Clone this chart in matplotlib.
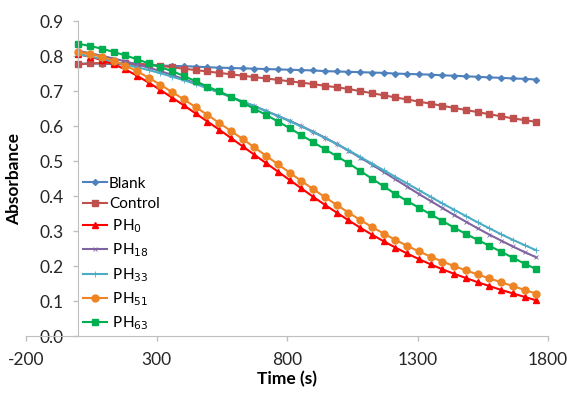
import matplotlib
matplotlib.use('Agg')
import matplotlib.pyplot as plt

plt.rcParams['font.family'] = ['Lato', 'DejaVu Sans']
plt.rcParams['axes.unicode_minus'] = False

time_s = [0, 45, 90, 135, 180, 225, 270, 315, 360, 405, 450, 495, 540, 585, 630,
          675, 720, 765, 810, 855, 900, 945, 990, 1035, 1080, 1125, 1170, 1215,
          1260, 1305, 1350, 1395, 1440, 1485, 1530, 1575, 1620, 1665, 1710, 1755]

blank = [0.778, 0.779, 0.778, 0.777, 0.776, 0.775, 0.774, 0.773, 0.772, 0.771,
         0.770, 0.768, 0.767, 0.766, 0.765, 0.764, 0.763, 0.762, 0.761, 0.760,
         0.759, 0.757, 0.756, 0.755, 0.754, 0.753, 0.752, 0.750, 0.749, 0.748,
         0.747, 0.745, 0.744, 0.742, 0.741, 0.739, 0.738, 0.736, 0.735, 0.733]
control = [0.776, 0.779, 0.780, 0.780, 0.779, 0.778, 0.776, 0.772, 0.768, 0.764,
           0.760, 0.756, 0.752, 0.748, 0.744, 0.740, 0.736, 0.732, 0.728, 0.724,
           0.720, 0.715, 0.711, 0.706, 0.700, 0.694, 0.688, 0.682, 0.676, 0.670,
           0.664, 0.658, 0.652, 0.646, 0.640, 0.634, 0.628, 0.622, 0.617, 0.612]
ph0 = [0.805, 0.798, 0.789, 0.777, 0.762, 0.744, 0.724, 0.703, 0.681, 0.659,
       0.636, 0.613, 0.590, 0.566, 0.542, 0.518, 0.494, 0.470, 0.446, 0.422,
       0.398, 0.375, 0.353, 0.331, 0.310, 0.290, 0.271, 0.253, 0.236, 0.220,
       0.205, 0.191, 0.178, 0.166, 0.154, 0.143, 0.132, 0.122, 0.112, 0.102]
ph18 = [0.815, 0.808, 0.801, 0.793, 0.785, 0.776, 0.767, 0.757, 0.746, 0.734,
        0.722, 0.709, 0.696, 0.683, 0.670, 0.657, 0.643, 0.629, 0.615, 0.600,
        0.584, 0.567, 0.549, 0.530, 0.510, 0.490, 0.469, 0.448, 0.427, 0.406,
        0.386, 0.366, 0.346, 0.327, 0.308, 0.290, 0.273, 0.256, 0.240, 0.225]
ph33 = [0.805, 0.799, 0.792, 0.784, 0.776, 0.768, 0.760, 0.751, 0.741, 0.731,
        0.720, 0.708, 0.696, 0.683, 0.670, 0.657, 0.643, 0.629, 0.614, 0.599,
        0.583, 0.566, 0.549, 0.531, 0.512, 0.493, 0.474, 0.455, 0.436, 0.417,
        0.398, 0.379, 0.361, 0.343, 0.325, 0.308, 0.291, 0.275, 0.260, 0.245]
ph51 = [0.812, 0.806, 0.798, 0.787, 0.773, 0.757, 0.738, 0.718, 0.697, 0.676,
        0.654, 0.632, 0.609, 0.586, 0.563, 0.539, 0.515, 0.491, 0.467, 0.443,
        0.420, 0.397, 0.375, 0.353, 0.332, 0.312, 0.293, 0.275, 0.258, 0.242,
        0.227, 0.213, 0.200, 0.188, 0.176, 0.165, 0.154, 0.143, 0.132, 0.121]
ph63 = [0.835, 0.829, 0.821, 0.812, 0.802, 0.791, 0.779, 0.768, 0.757, 0.743,
        0.728, 0.713, 0.699, 0.684, 0.667, 0.649, 0.632, 0.613, 0.594, 0.574,
        0.554, 0.534, 0.514, 0.494, 0.472, 0.450, 0.428, 0.406, 0.386, 0.367,
        0.348, 0.329, 0.310, 0.292, 0.275, 0.258, 0.241, 0.224, 0.207, 0.191]

x_ticks = [-200, 300, 800, 1300, 1800]
y_ticks = [0.0, 0.1, 0.2, 0.3, 0.4, 0.5, 0.6, 0.7, 0.8, 0.9]

fig = plt.figure(figsize=(5.67, 3.94), dpi=100)
ax = fig.add_axes([0.046, 0.147, 0.9205, 0.7995])

ax.plot(time_s, blank, color='#4F81BD', marker='D', ms=3, lw=1.5, label='Blank')
ax.plot(time_s, control, color='#C0504D', marker='s', ms=5, lw=1.5, label='Control')
ax.plot(time_s, ph0, color='#FF0000', marker='^', ms=5, lw=1.5, label=' PH$_{0}$')
ax.plot(time_s, ph18, color='#8064A2', marker='x', ms=3, mew=0.6, lw=1.5,
        label=' PH$_{18}$')
ax.plot(time_s, ph33, color='#4BACC6', marker='+', ms=4, mew=0.6, lw=1.5,
        label=' PH$_{33}$')
ax.plot(time_s, ph51, color='#EE8424', marker='o', ms=5, lw=1.5, label=' PH$_{51}$')
ax.plot(time_s, ph63, color='#00B050', marker='s', ms=5, lw=1.5, label=' PH$_{63}$')

ax.set_xlim(-200, 1800)
ax.set_ylim(0, 0.9)
ax.set_xticks(x_ticks)
ax.set_yticks(y_ticks)
ax.set_yticklabels(['%.1f' % v for v in y_ticks])

ax.spines['top'].set_visible(False)
ax.spines['right'].set_visible(False)
ax.spines['left'].set_position(('data', 0))
ax.spines['left'].set_color('#BFBFBF')
ax.spines['bottom'].set_color('#BFBFBF')
ax.tick_params(axis='both', colors='#BFBFBF', labelcolor='#262626', labelsize=12.5,
               length=3.5, width=1)
ax.tick_params(axis='x', pad=8)
ax.tick_params(axis='y', pad=7)

ax.set_xlabel('Time (s)', fontsize=12.5, fontweight='bold', labelpad=2)
ax.set_ylabel('Absorbance', fontsize=12.5, fontweight='bold')
ax.yaxis.set_label_coords(-0.008, 0.5)

ax.legend(loc='upper left', bbox_to_anchor=(0.097, 0.525), frameon=False,
          fontsize=11, handlelength=1.6, handletextpad=0.1, labelspacing=0.42,
          borderaxespad=0)

plt.savefig('out.png', dpi=100)
